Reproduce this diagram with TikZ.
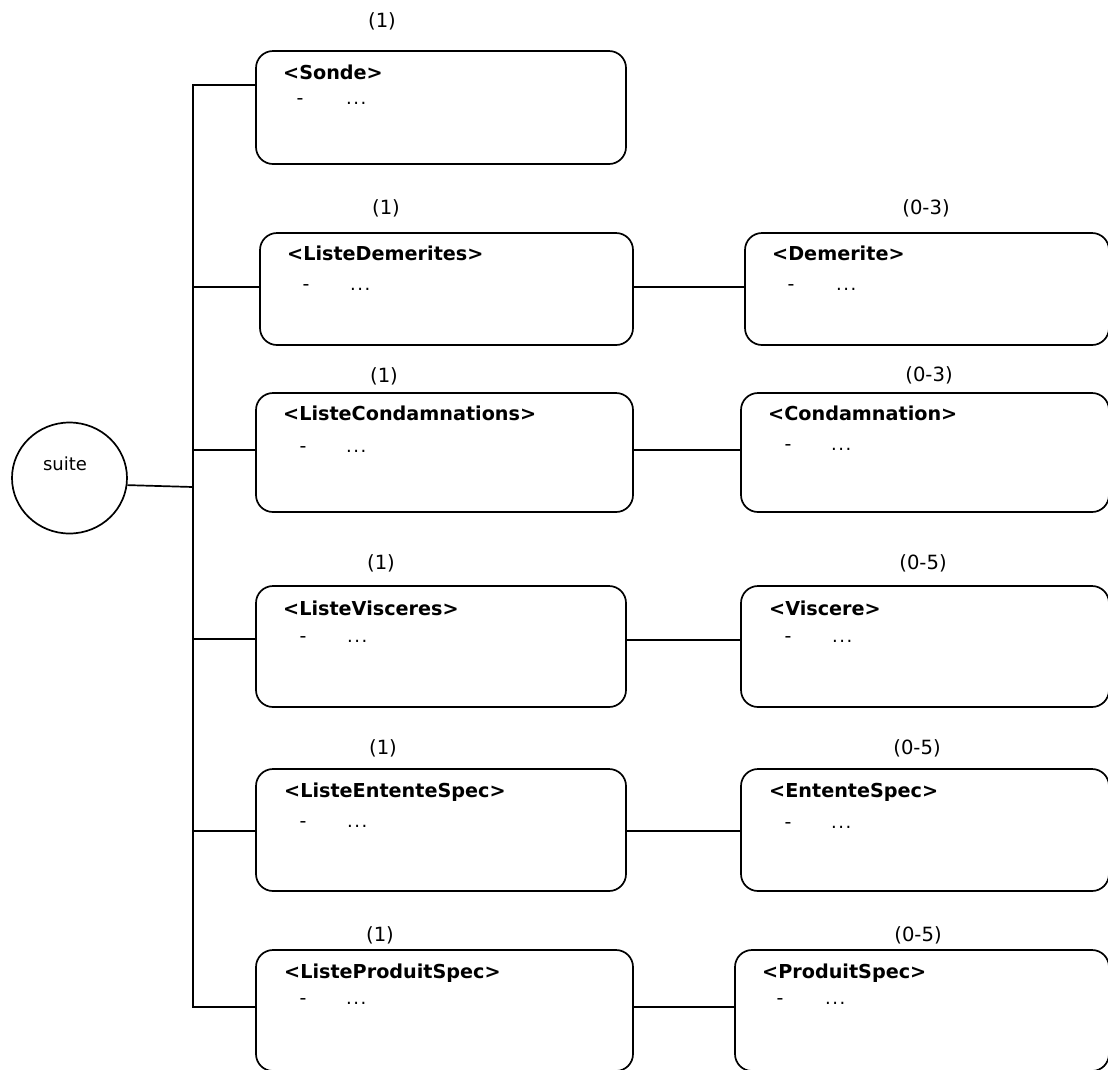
\documentclass[tikz,border=0pt]{standalone}
\usepackage{fontspec}
\setmainfont{DejaVu Sans}
\usetikzlibrary{shapes.geometric}
\newcommand{\mydots}{.\kern1.5pt.\kern1.5pt.}
\begin{document}
\begin{tikzpicture}[x=1pt,y=-1pt,
  box/.style={draw, line width=1.7pt, rounded corners=17pt, inner sep=0pt},
  wire/.style={line width=1.7pt},
  lab/.style={inner sep=0pt, anchor=base west, font=\fontsize{19.2}{23}\selectfont\bfseries},
  mult/.style={inner sep=0pt, font=\fontsize{19.6}{23}\selectfont},
  rootlab/.style={inner sep=0pt, font=\fontsize{18}{22}\selectfont},
  dashtxt/.style={inner sep=0pt, anchor=base, font=\fontsize{19}{22}\selectfont},
  dots/.style={inner sep=0pt, anchor=base west, font=\fontsize{18}{22}\selectfont}]
\useasboundingbox (0,0) rectangle (1108,1069);

% root
\node[draw, ellipse, line width=1.7pt, minimum width=115pt, minimum height=111pt, inner sep=0pt] (suite) at (69.5,478) {};
\node[rootlab] (suitetxt) at (65,464) {suite};

% left column boxes
\node[box, minimum width=370pt, minimum height=113pt] (b1) at (441,107.5) {};
\node[box, minimum width=373pt, minimum height=112pt] (b2) at (446.5,289) {};
\node[box, minimum width=377pt, minimum height=119pt] (b3) at (444.5,452.5) {};
\node[box, minimum width=370pt, minimum height=121pt] (b4) at (441,646.5) {};
\node[box, minimum width=370pt, minimum height=122pt] (b5) at (441,830) {};
\node[box, minimum width=377pt, minimum height=121pt] (b6) at (444.5,1010.5) {};

% right column boxes
\node[box, minimum width=364pt, minimum height=112pt] (c2) at (927,289) {};
\node[box, minimum width=368pt, minimum height=119pt] (c3) at (925,452.5) {};
\node[box, minimum width=368pt, minimum height=121pt] (c4) at (925,646.5) {};
\node[box, minimum width=368pt, minimum height=122pt] (c5) at (925,830) {};
\node[box, minimum width=374pt, minimum height=121pt] (c6) at (922,1010.5) {};

% multiplicities
\node[mult] (m1) at (382,21) {(1)};
\node[mult] (m2) at (386,208) {(1)};
\node[mult] (m3) at (384,376) {(1)};
\node[mult] (m4) at (381,563) {(1)};
\node[mult] (m5) at (383,748) {(1)};
\node[mult] (m6) at (380,935) {(1)};
\node[mult] (n2) at (926,208) {(0-3)};
\node[mult] (n3) at (929,375) {(0-3)};
\node[mult] (n4) at (923,563) {(0-5)};
\node[mult] (n5) at (917,748) {(0-5)};
\node[mult] (n6) at (918,935) {(0-5)};

% titles
\node[lab] (l1) at (283,79) {<Sonde>};
\node[lab] (l2) at (287,260) {<ListeDemerites>};
\node[lab] (l3) at (283,420) {<ListeCondamnations>};
\node[lab] (l4) at (283,615) {<ListeVisceres>};
\node[lab] (l5) at (284,797) {<ListeEntenteSpec>};
\node[lab] (l6) at (284,978) {<ListeProduitSpec>};
\node[lab] (k2) at (772,260) {<Demerite>};
\node[lab] (k3) at (768,420) {<Condamnation>};
\node[lab] (k4) at (769,615) {<Viscere>};
\node[lab] (k5) at (769,797) {<EntenteSpec>};
\node[lab] (k6) at (762,978) {<ProduitSpec>};

% dash and ellipsis lines
\node[dashtxt] (d1) at (300,104) {-};  \node[dots] (e1) at (346,104) {\mydots};
\node[dashtxt] (d2) at (306,290) {-};  \node[dots] (e2) at (350,290) {\mydots};
\node[dashtxt] (d3) at (303,452) {-};  \node[dots] (e3) at (346,452) {\mydots};
\node[dashtxt] (d4) at (303,642) {-};  \node[dots] (e4) at (347,642) {\mydots};
\node[dashtxt] (d5) at (303,827) {-};  \node[dots] (e5) at (347,827) {\mydots};
\node[dashtxt] (d6) at (303,1004) {-}; \node[dots] (e6) at (346,1004) {\mydots};
\node[dashtxt] (f2) at (791,290) {-};  \node[dots] (g2) at (836,290) {\mydots};
\node[dashtxt] (f3) at (788,450) {-};  \node[dots] (g3) at (831,450) {\mydots};
\node[dashtxt] (f4) at (788,642) {-};  \node[dots] (g4) at (832,642) {\mydots};
\node[dashtxt] (f5) at (788,828) {-};  \node[dots] (g5) at (831,828) {\mydots};
\node[dashtxt] (f6) at (780,1004) {-}; \node[dots] (g6) at (825,1004) {\mydots};

% trunk
\coordinate (j0) at (193,487);
\coordinate (t1) at (193,85);
\coordinate (t2) at (193,287);
\coordinate (t3) at (193,450);
\coordinate (t4) at (193,639);
\coordinate (t5) at (193,831);
\coordinate (t6) at (193,1007);
\draw[wire] (t1 -| b1.west) -- (t1) -- (t6) -- (t6 -| b6.west);
\draw[wire] (suite.-7) -- (j0);
\draw[wire] (t2) -- (t2 -| b2.west);
\draw[wire] (t3) -- (t3 -| b3.west);
\draw[wire] (t4) -- (t4 -| b4.west);
\draw[wire] (t5) -- (t5 -| b5.west);

% right connectors
\coordinate (r2) at (690,287);
\coordinate (r3) at (690,450);
\coordinate (r4) at (690,640);
\coordinate (r5) at (690,831);
\coordinate (r6) at (690,1007);
\draw[wire] (r2 -| b2.east) -- (r2 -| c2.west);
\draw[wire] (r3 -| b3.east) -- (r3 -| c3.west);
\draw[wire] (r4 -| b4.east) -- (r4 -| c4.west);
\draw[wire] (r5 -| b5.east) -- (r5 -| c5.west);
\draw[wire] (r6 -| b6.east) -- (r6 -| c6.west);
\end{tikzpicture}
\end{document}
